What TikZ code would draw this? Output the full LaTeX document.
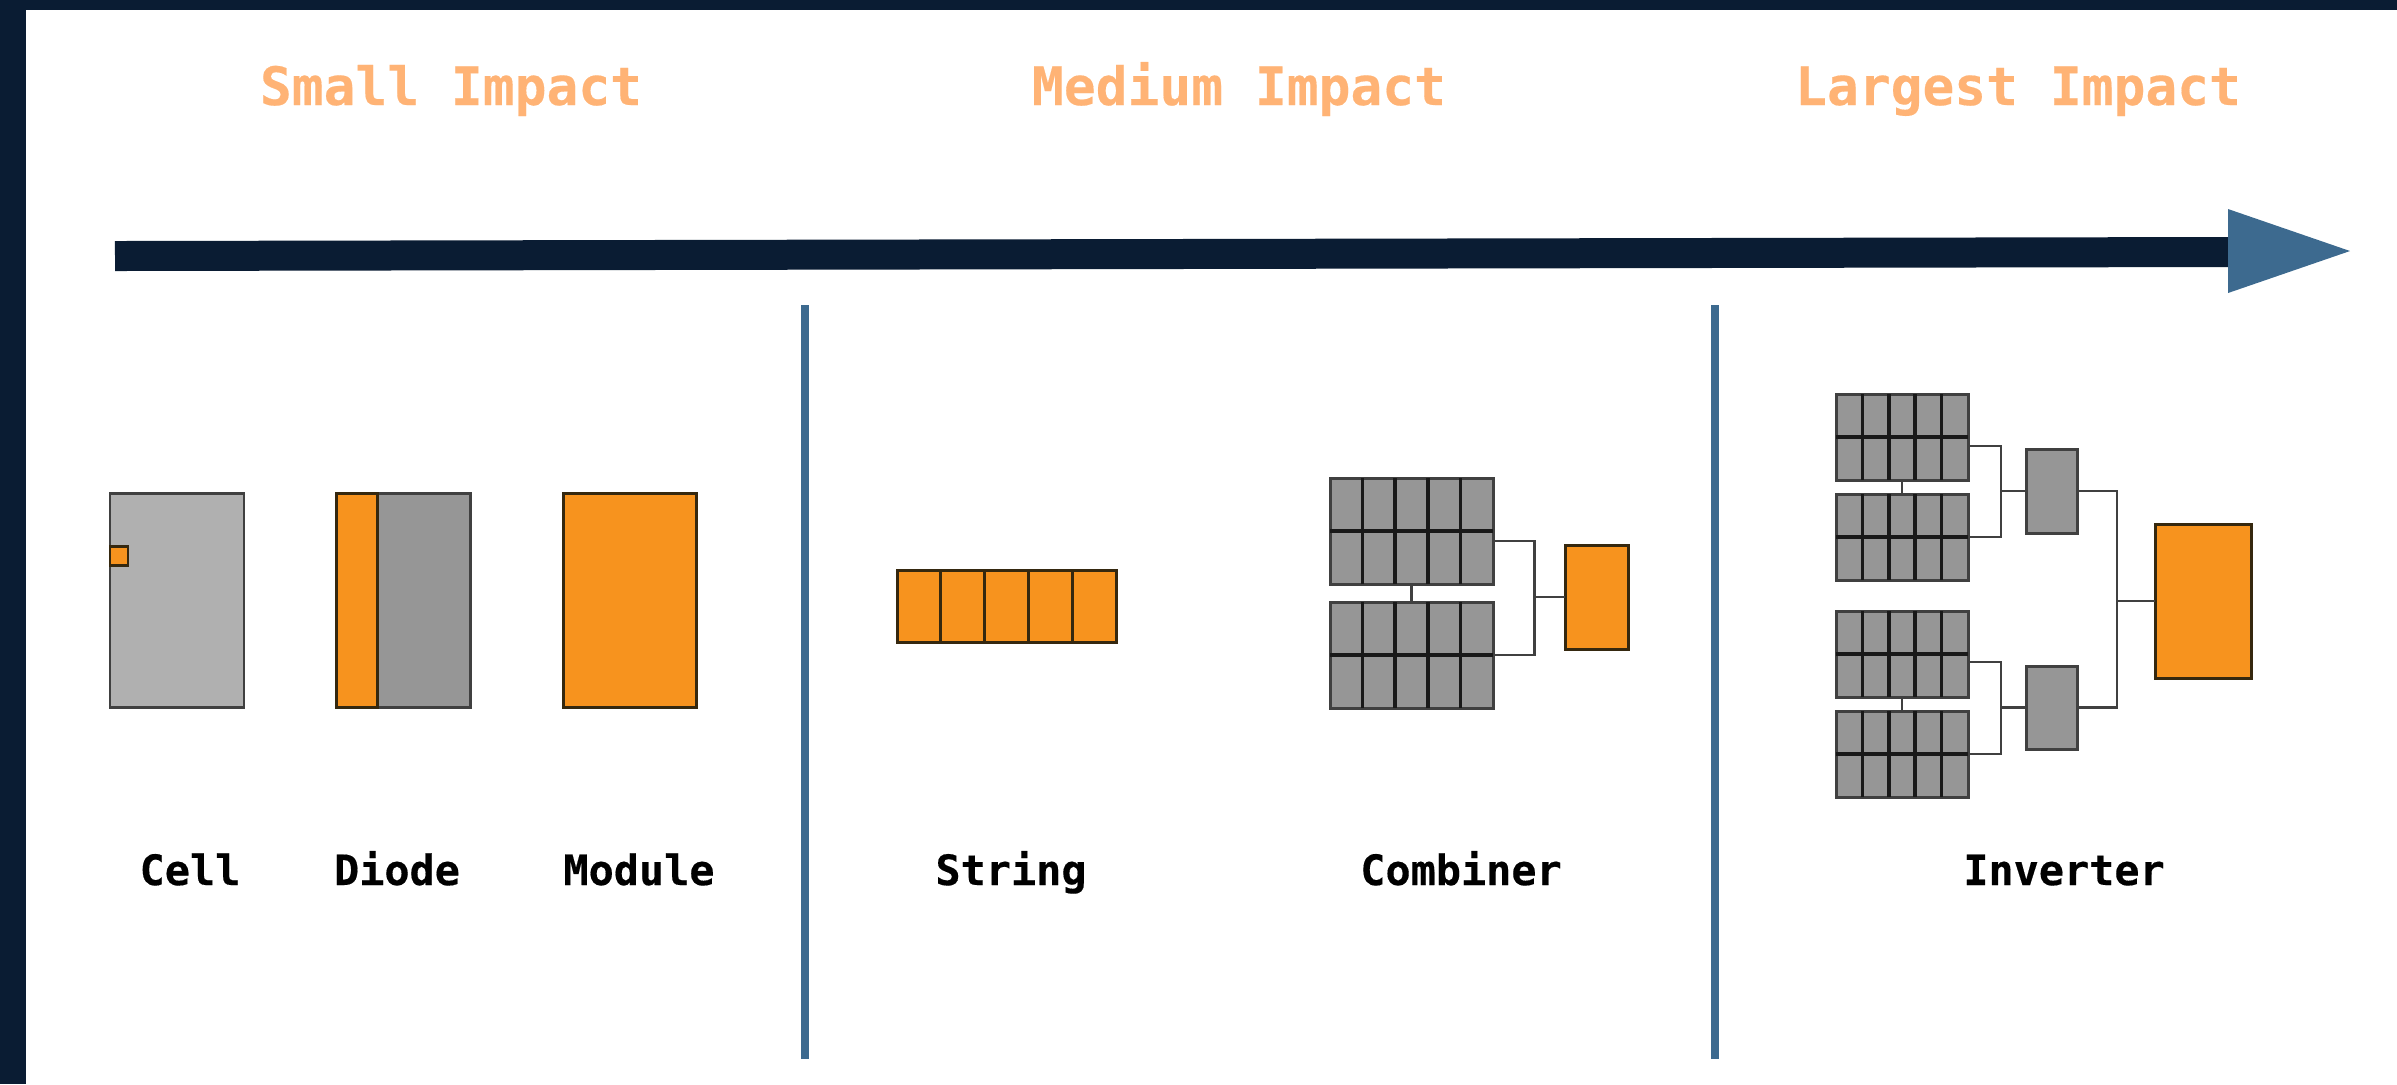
\documentclass[tikz,border=0pt]{standalone}
\usepackage{fontspec}
\setmonofont{DejaVu Sans Mono}[BoldFeatures={FakeBold=0.3}]
\usetikzlibrary{positioning, calc}
\definecolor{navy}{HTML}{0A1C33}
\definecolor{steel}{HTML}{3D6A8F}
\definecolor{amber}{HTML}{F7931E}
\definecolor{peach}{HTML}{FFB375}
\definecolor{lightpanel}{HTML}{B0B0B0}
\definecolor{darkpanel}{HTML}{969696}
\definecolor{edge}{HTML}{404040}
\definecolor{brownedge}{HTML}{35280F}
\tikzset{
    orangebox/.style={draw=brownedge, fill=amber, line width=0.85pt, inner sep=0pt, outer sep=0pt},
    greybox/.style={draw=edge, fill=darkpanel, line width=0.85pt, inner sep=0pt, outer sep=0pt},
    wire/.style={draw=edge, line width=0.8pt},
    seam/.style={draw=black!90, line width=1pt},
    divider/.style={draw=steel, line width=0.08cm},
    heading/.style={font=\ttfamily\bfseries\fontsize{15.05pt}{18pt}\selectfont, text=peach, anchor=base, inner sep=0pt},
    caption/.style={font=\ttfamily\bfseries\fontsize{11.9pt}{14pt}\selectfont, text=black, anchor=base, inner sep=0pt},
    pics/panel/.style 2 args={code={
        \node[greybox, minimum width=#1cm, minimum height=#2cm] (-body) {};
        \draw[seam] ({-0.3*#1},{-#2/2}) -- ({-0.3*#1},{#2/2});
        \draw[seam] ({-0.1*#1},{-#2/2}) -- ({-0.1*#1},{#2/2});
        \draw[seam] ({0.1*#1},{-#2/2}) -- ({0.1*#1},{#2/2});
        \draw[seam] ({0.3*#1},{-#2/2}) -- ({0.3*#1},{#2/2});
        \draw[seam] ({-#1/2},0) -- ({#1/2},0);
    }},
}

\begin{document}
\begin{tikzpicture}[x=1cm, y=-1cm]
    \useasboundingbox (0,0) rectangle (23.97,10.84);

    % frame
    \fill[navy] (0,0) rectangle (23.97,0.10);
    \fill[navy] (0,0) rectangle (0.26,10.84);

    % headings
    \node[heading] (small) at (4.51,1.05) {Small Impact};
    \node[heading] (medium) at (12.39,1.05) {Medium Impact};
    \node[heading] (largest) at (20.18,1.05) {Largest Impact};

    % impact arrow
    \coordinate (barstart) at (1.15,2.56);
    \coordinate (barend) at (22.28,2.52);
    \draw[navy, line width=0.30cm] (barstart) -- (barend);
    \fill[steel] (22.28,2.09) -- (23.50,2.51) -- (22.28,2.93) -- cycle;

    % dividers
    \coordinate (d1top) at (8.05,3.05);
    \coordinate (d1bot) at (8.05,10.59);
    \coordinate (d2top) at (17.15,3.05);
    \coordinate (d2bot) at (17.15,10.59);
    \draw[divider] (d1top) -- (d1bot);
    \draw[divider] (d2top) -- (d2bot);

    % cell, diode, module
    \node[greybox, fill=lightpanel, minimum width=1.34cm, minimum height=2.14cm] (cell) at (1.77,6.00) {};
    \node[orangebox, minimum width=0.18cm, minimum height=0.19cm] (hit) at (1.19,5.555) {};
    \node[greybox, minimum width=1.34cm, minimum height=2.14cm] (diode) at (4.03,6.00) {};
    \node[orangebox, minimum width=0.41cm, minimum height=2.14cm] (bypass) at (3.565,6.00) {};
    \node[orangebox, minimum width=1.33cm, minimum height=2.14cm] (module) at (6.295,6.00) {};

    % string
    \tikzset{every node/.append style={minimum width=0.438cm, minimum height=0.72cm}}
    \node[orangebox] (s1) at (9.189,6.06) {};
    \node[orangebox, right=0cm of s1] (s2) {};
    \node[orangebox, right=0cm of s2] (s3) {};
    \node[orangebox, right=0cm of s3] (s4) {};
    \node[orangebox, right=0cm of s4] (s5) {};
    \tikzset{every node/.style={}}

    % combiner
    \pic (ca) at (14.115,5.31) {panel={1.63}{1.06}};
    \pic (cb) at (14.115,6.55) {panel={1.63}{1.06}};
    \node[orangebox, minimum width=0.63cm, minimum height=1.04cm] (cbox) at (15.965,5.97) {};
    \coordinate (cbus) at (15.345,5.97);
    \draw[wire] (ca-body) -- (cb-body);
    \draw[wire] ([yshift=-0.10cm]ca-body.east) -| (cbus);
    \draw[wire] (cb-body.east) -| (cbus);
    \draw[wire] (cbus) -- (cbox);

    % inverter
    \pic (ia) at (19.02,4.37) {panel={1.32}{0.86}};
    \pic (ib) at (19.02,5.37) {panel={1.32}{0.86}};
    \pic (ic) at (19.02,6.54) {panel={1.32}{0.86}};
    \pic (id) at (19.02,7.54) {panel={1.32}{0.86}};
    \node[greybox, minimum width=0.51cm, minimum height=0.84cm] (iboxa) at (20.515,4.91) {};
    \node[greybox, minimum width=0.51cm, minimum height=0.83cm] (iboxb) at (20.515,7.075) {};
    \node[orangebox, minimum width=0.96cm, minimum height=1.54cm] (ibig) at (22.03,6.01) {};
    \coordinate (ibusa) at (20.01,4.91);
    \coordinate (ibusb) at (20.01,7.075);
    \coordinate (ibusc) at (21.17,6.01);
    \draw[wire] (ia-body.south) -- (ib-body.north);
    \draw[wire] (ic-body.south) -- (id-body.north);
    \draw[wire] ([yshift=-0.09cm]ia-body.east) -| (ibusa);
    \draw[wire] (ib-body.east) -| (ibusa);
    \draw[wire] (ibusa) -- (iboxa);
    \draw[wire] ([yshift=-0.08cm]ic-body.east) -| (ibusb);
    \draw[wire] (id-body.east) -| (ibusb);
    \draw[wire] (ibusb) -- (iboxb);
    \draw[wire] (iboxa.east) -| (ibusc);
    \draw[wire] (iboxb.east) -| (ibusc);
    \draw[wire] (ibusc) -- (ibig);

    % captions
    \node[caption] (lcell) at (1.90,8.85) {Cell};
    \node[caption] (ldiode) at (3.97,8.85) {Diode};
    \node[caption] (lmodule) at (6.39,8.85) {Module};
    \node[caption] (lstring) at (10.11,8.85) {String};
    \node[caption] (lcombiner) at (14.61,8.85) {Combiner};
    \node[caption] (linverter) at (20.64,8.85) {Inverter};
\end{tikzpicture}
\end{document}
